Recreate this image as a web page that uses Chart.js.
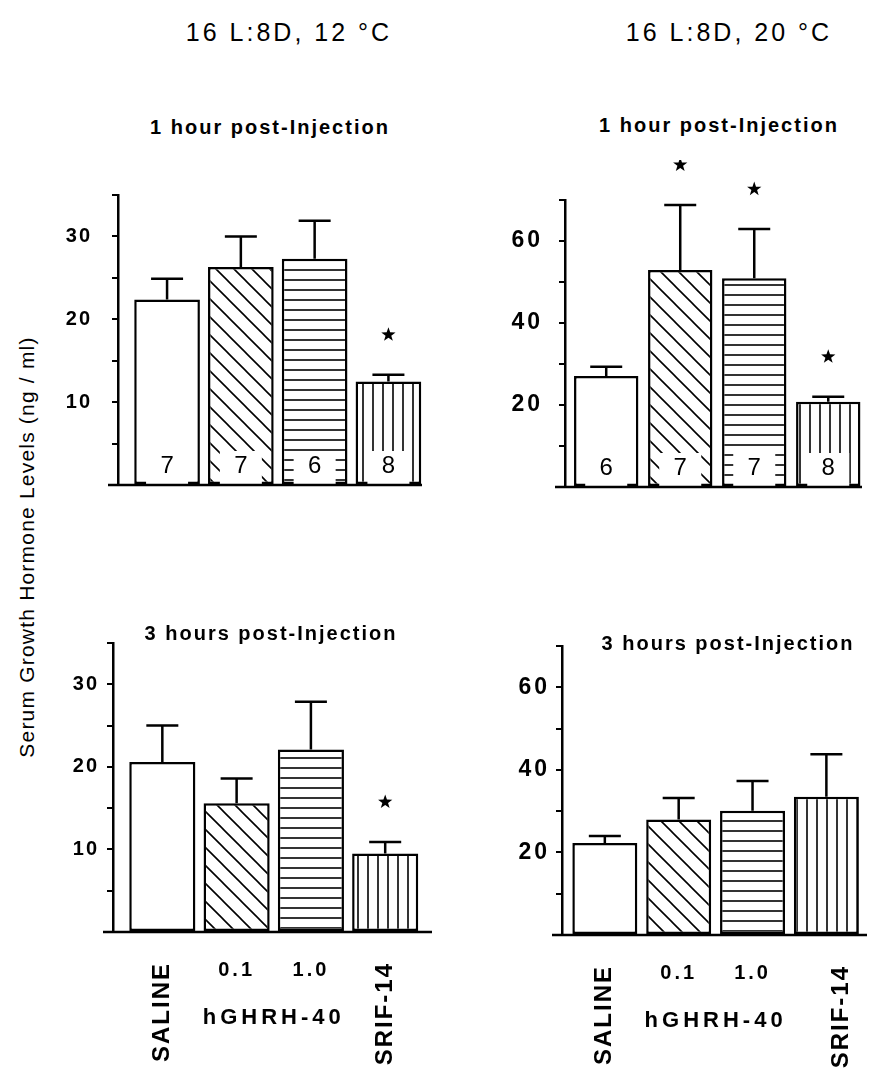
<!DOCTYPE html>
<html>
<head>
<meta charset="utf-8">
<script src="https://cdn.jsdelivr.net/npm/chart.js@4.4.1/dist/chart.umd.min.js"></script>
<style>
  html, body { margin: 0; padding: 0; background: #fff; }
  body { width: 871px; height: 1068px; position: relative; overflow: hidden;
         font-family: "Liberation Sans", Arial, sans-serif; color: #000; }
  canvas { position: absolute; }
  .t { position: absolute; white-space: nowrap; transform: translate(-50%, -50%); z-index: 2; }
  .head { font-size: 25px; letter-spacing: 3px; }
  .sub { font-size: 20px; font-weight: bold; letter-spacing: 2px; }
  .ytitle { font-size: 21px; letter-spacing: 1.2px; transform: translate(-50%, -50%) rotate(-90deg); }
</style>
</head>
<body>
<canvas id="tl"></canvas>
<canvas id="tr"></canvas>
<canvas id="bl"></canvas>
<canvas id="br"></canvas>

<div class="t head" style="left:289px; top:32px;">16 L:8D, 12 °C</div>
<div class="t head" style="left:729px; top:32px;">16 L:8D, 20 °C</div>
<div class="t sub" style="left:270px; top:127px;">1 hour post-Injection</div>
<div class="t sub" style="left:719px; top:125px;">1 hour post-Injection</div>
<div class="t sub" style="left:271px; top:633px;">3 hours post-Injection</div>
<div class="t sub" style="left:728px; top:643px;">3 hours post-Injection</div>
<div class="t ytitle" style="left:27px; top:547px;">Serum Growth Hormone Levels (ng / ml)</div>

<script>
// Treatment groups (x positions 0..3)
const groups = ['SALINE', '0.1', '1.0', 'SRIF-14'];
const doseName = 'hGHRH-40';

// 12 °C, 1 hour
const meanTL = [22.4, 26.3, 27.3, 12.5];
const semTL  = [2.5, 3.7, 4.6, 0.8];
const nTL    = [7, 7, 6, 8];
const sigTL  = [false, false, false, true];

// 20 °C, 1 hour
const meanTR = [27.1, 52.9, 50.9, 20.8];
const semTR  = [2.2, 15.9, 12.0, 1.2];
const nTR    = [6, 7, 7, 8];
const sigTR  = [false, true, true, true];

// 12 °C, 3 hours
const meanBL = [20.6, 15.6, 22.1, 9.5];
const semBL  = [4.4, 3.0, 5.8, 1.4];
const sigBL  = [false, false, false, true];

// 20 °C, 3 hours
const meanBR = [22.3, 28.0, 30.1, 33.5];
const semBR  = [1.7, 5.2, 7.2, 10.3];
const sigBR  = [false, false, false, false];

// Y axis ranges and labelled ticks
const yMaxLow = 35, yStepLow = 5, yLabelsLow = [10, 20, 30];
const yMaxHigh = 70, yStepHigh = 10, yLabelsHigh = [20, 40, 60];

const FONT = '"Liberation Sans", Arial, sans-serif';
const fills = ['plain', 'diag', 'horiz', 'vert'];

function makePattern(ctx, kind) {
  if (kind === 'plain') return '#ffffff';
  const s = kind === 'diag' ? 18 : 10;
  const c = document.createElement('canvas');
  c.width = s; c.height = s;
  const g = c.getContext('2d');
  g.fillStyle = '#fff';
  g.fillRect(0, 0, s, s);
  g.strokeStyle = '#000';
  g.lineWidth = 1.6;
  g.beginPath();
  if (kind === 'diag') {
    g.moveTo(-2, -2); g.lineTo(s + 2, s + 2);
    g.moveTo(-2, s - 2); g.lineTo(2, s + 2);
    g.moveTo(s - 2, -2); g.lineTo(s + 2, 2);
  } else if (kind === 'horiz') {
    g.moveTo(0, s / 2); g.lineTo(s, s / 2);
  } else {
    g.moveTo(s / 2, 0); g.lineTo(s / 2, s);
  }
  g.stroke();
  return ctx.createPattern(c, 'repeat');
}

function drawStar(ctx, cx, cy, R, r) {
  ctx.beginPath();
  for (let k = 0; k < 10; k++) {
    const rad = k % 2 === 0 ? R : r;
    const a = -Math.PI / 2 + k * Math.PI / 5;
    const px = cx + rad * Math.cos(a), py = cy + rad * Math.sin(a);
    if (k === 0) ctx.moveTo(px, py); else ctx.lineTo(px, py);
  }
  ctx.closePath();
  ctx.fill();
}

function panel(id, cfg) {
  const cv = document.getElementById(id);
  const yAxisW = 70;
  const left = cfg.axisX - yAxisW - cfg.padL;
  const top = cfg.top - cfg.padT;
  const width = cfg.right + cfg.padR - left;
  const height = cfg.bottom + cfg.padB - top;
  cv.style.left = left + 'px';
  cv.style.top = top + 'px';
  cv.width = width; cv.height = height;
  cv.style.width = width + 'px'; cv.style.height = height + 'px';
  const ctx = cv.getContext('2d');
  const bg = fills.map(k => makePattern(ctx, k));
  const shift = cfg.labelShift || [0, 0, 0, 0];

  const decor = {
    id: 'decor',
    beforeUpdate(chart) { chart.ctx.letterSpacing = cfg.tickSpacing; },
    beforeDraw(chart) { chart.ctx.letterSpacing = cfg.tickSpacing; },
    afterDatasetsDraw(chart) {
      const c = chart.ctx;
      const ys = chart.scales.y;
      const meta = chart.getDatasetMeta(0);
      const base = chart.chartArea.bottom;
      c.save();
      c.letterSpacing = '0px';
      // error bars (upper half only)
      c.strokeStyle = '#000';
      c.lineWidth = 2.5;
      meta.data.forEach((bar, i) => {
        const yTop = ys.getPixelForValue(cfg.mean[i] + cfg.sem[i]);
        c.beginPath();
        c.moveTo(bar.x, bar.y);
        c.lineTo(bar.x, yTop);
        c.moveTo(bar.x - 16, yTop);
        c.lineTo(bar.x + 16, yTop);
        c.stroke();
        if (cfg.sig[i]) {
          c.fillStyle = '#000';
          drawStar(c, bar.x, yTop - 40, 7.5, 3);
        }
      });
      // sample sizes at the foot of each bar
      if (cfg.n) {
        c.font = '24px ' + FONT;
        c.textAlign = 'center';
        c.textBaseline = 'middle';
        meta.data.forEach((bar, i) => {
          c.fillStyle = '#fff';
          c.fillRect(bar.x - 21, base - 34, 42, 33);
          c.fillStyle = '#000';
          c.fillText(String(cfg.n[i]), bar.x, base - 19);
        });
      }
      c.restore();
    },
    afterDraw(chart) {
      const c = chart.ctx;
      const area = chart.chartArea;
      const xs = chart.scales.x;
      c.save();
      c.letterSpacing = '0px';
      c.strokeStyle = '#000';
      c.lineWidth = 2.5;
      c.beginPath();
      c.moveTo(area.left - 10, area.bottom);
      c.lineTo(area.right, area.bottom);
      c.stroke();
      if (cfg.xLabels) {
        c.fillStyle = '#000';
        c.font = 'bold 24px ' + FONT;
        c.letterSpacing = '2px';
        [0, 3].forEach(i => {
          c.save();
          c.translate(xs.getPixelForValue(i) + shift[i], area.bottom + 30);
          c.rotate(-Math.PI / 2);
          c.textAlign = 'right';
          c.textBaseline = 'middle';
          c.fillText(groups[i], 0, 0);
          c.restore();
        });
        c.font = 'bold 20px ' + FONT;
        c.letterSpacing = '3px';
        c.textAlign = 'center';
        c.textBaseline = 'middle';
        [1, 2].forEach(i => c.fillText(groups[i], xs.getPixelForValue(i) + shift[i], area.bottom + 38));
        c.font = 'bold 22px ' + FONT;
        c.letterSpacing = '4px';
        c.fillText(doseName, xs.getPixelForValue(1.5), area.bottom + 86);
      }
      c.restore();
    }
  };

  return new Chart(ctx, {
    type: 'bar',
    data: {
      datasets: [{
        data: cfg.mean.map((v, i) => ({ x: i, y: v })),
        backgroundColor: bg,
        borderColor: '#000',
        borderWidth: 2.5,
        borderSkipped: false,
        categoryPercentage: 1,
        barPercentage: cfg.barPct
      }]
    },
    options: {
      responsive: false,
      animation: false,
      devicePixelRatio: 1,
      layout: { padding: { left: cfg.padL, right: cfg.padR, top: cfg.padT, bottom: cfg.padB } },
      plugins: { legend: { display: false }, tooltip: { enabled: false } },
      scales: {
        x: {
          type: 'linear', display: false, offset: false, min: cfg.xMin, max: cfg.xMax,
          grid: { offset: false },
          ticks: { stepSize: 1, includeBounds: false }
        },
        y: {
          min: 0, max: cfg.yMax,
          afterFit(s) { s.width = yAxisW; },
          ticks: {
            stepSize: cfg.yStep, autoSkip: false, color: '#000',
            padding: cfg.tickPad,
            font: { family: FONT, size: cfg.tickSize, weight: 'bold' },
            callback: v => cfg.yLabels.includes(v) ? String(v) : ''
          },
          grid: { drawOnChartArea: false, drawTicks: true, tickLength: 6, color: '#000', lineWidth: 2 },
          border: { display: true, color: '#000', width: 2.5 }
        }
      }
    },
    plugins: [decor]
  });
}

panel('tl', {
  mean: meanTL, sem: semTL, n: nTL, sig: sigTL,
  axisX: 118, top: 195, bottom: 485, right: 422,
  padL: 0, padR: 8, padT: 40, padB: 40,
  xMin: -0.665, xMax: 3.455, barPct: 0.89,
  yMax: yMaxLow, yStep: yStepLow, yLabels: yLabelsLow,
  tickSize: 20, tickPad: 20, tickSpacing: '2px'
});
panel('tr', {
  mean: meanTR, sem: semTR, n: nTR, sig: sigTR,
  axisX: 565, top: 200, bottom: 487, right: 862,
  padL: 0, padR: 8, padT: 40, padB: 40,
  xMin: -0.557, xMax: 3.456, barPct: 0.87,
  yMax: yMaxHigh, yStep: yStepHigh, yLabels: yLabelsHigh,
  tickSize: 23, tickPad: 16, tickSpacing: '3px'
});
panel('bl', {
  mean: meanBL, sem: semBL, n: null, sig: sigBL, xLabels: true,
  axisX: 113, top: 643, bottom: 932, right: 432,
  padL: 0, padR: 8, padT: 30, padB: 136,
  xMin: -0.664, xMax: 3.63, barPct: 0.89,
  yMax: yMaxLow, yStep: yStepLow, yLabels: yLabelsLow,
  tickSize: 20, tickPad: 8, tickSpacing: '2px'
});
panel('br', {
  mean: meanBR, sem: semBR, n: null, sig: sigBR, xLabels: true,
  labelShift: [0, 0, 0, 15],
  axisX: 562, top: 646, bottom: 935, right: 867,
  padL: 0, padR: 4, padT: 30, padB: 133,
  xMin: -0.58, xMax: 3.55, barPct: 0.88,
  yMax: yMaxHigh, yStep: yStepHigh, yLabels: yLabelsHigh,
  tickSize: 23, tickPad: 6, tickSpacing: '3px'
});
</script>
</body>
</html>
